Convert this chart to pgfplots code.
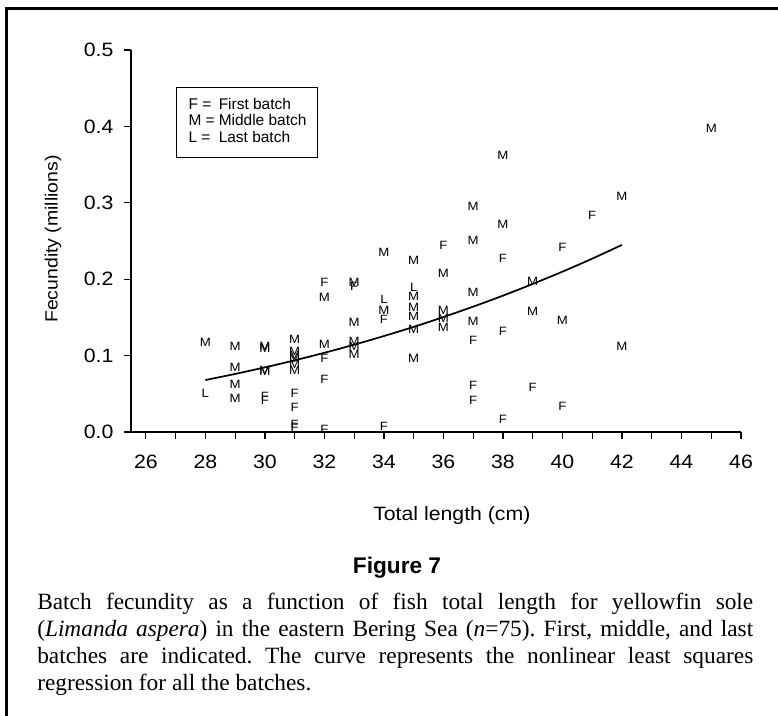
\documentclass[border=0pt]{standalone}
\usepackage{fontspec}
\setmainfont{Liberation Serif}
\newfontfamily\chartfont{Liberation Sans}[FakeStretch=1.1]
\newfontfamily\legfont{Liberation Sans}
\newfontfamily\figfont{Liberation Sans}
\usepackage{pgfplots}
\pgfplotsset{compat=1.18}

\pgfplotstableread{
x y
30 0.046
30 0.042
31 0.050
31 0.032
31 0.010
31 0.006
32 0.196
32 0.096
32 0.069
32 0.003
33 0.190
34 0.147
34 0.007
36 0.244
37 0.120
37 0.0615
37 0.042
38 0.227
38 0.132
38 0.017
39 0.0585
40 0.242
40 0.034
41 0.283
}\firstbatch

\pgfplotstableread{
x y
28 0.117
29 0.1125
29 0.084
29 0.062
29 0.044
30 0.112
30 0.109
30 0.080
30 0.081
31 0.121
31 0.105
31 0.100
31 0.096
31 0.088
31 0.081
32 0.176
32 0.115
33 0.196
33 0.143
33 0.118
33 0.112
33 0.101
34 0.235
34 0.159
35 0.224
35 0.178
35 0.163
35 0.151
35 0.134
35 0.096
36 0.208
36 0.159
36 0.149
36 0.137
37 0.295
37 0.251
37 0.183
37 0.145
38 0.362
38 0.272
39 0.197
39 0.158
40 0.146
42 0.309
42 0.112
45 0.3975
}\middlebatch

\pgfplotstableread{
x y
28 0.050
34 0.173
35 0.189
}\lastbatch

\pgfplotstableread{
x y
28 0.0680
29 0.0760
30 0.0846
31 0.0938
32 0.1037
33 0.1143
34 0.1256
35 0.1376
36 0.1505
37 0.1641
38 0.1785
39 0.1938
40 0.2099
41 0.2269
42 0.2449
}\fitcurve

\begin{document}
\frenchspacing
\begin{tikzpicture}
\useasboundingbox (-98.25pt,-212.25pt) rectangle (485.25pt,324pt);
\draw[line width=2.25pt] (-93pt,-216pt) -- (-93pt,317.25pt) -- (488pt,317.25pt);
\begin{axis}[
  at={(0pt,0pt)}, anchor=south west,
  width=457.5pt, height=286.5pt, scale only axis,
  xmin=25.5, xmax=46, ymin=0, ymax=0.5,
  axis lines*=left,
  axis line style={line width=0.9pt},
  tick align=outside,
  xtick={26,28,...,46},
  minor xtick={27,29,...,45},
  ytick={0,0.1,0.2,0.3,0.4,0.5},
  yticklabels={0.0,0.1,0.2,0.3,0.4,0.5},
  major tick length=5pt, minor tick length=5pt,
  every tick/.style={line width=0.9pt, black},
  /pgf/number format/assume math mode=true,
  tick label style={font=\chartfont\fontsize{14.5}{15}\selectfont},
  yticklabel style={anchor=east, inner sep=0pt, xshift=-8pt},
  xticklabel style={anchor=north, inner sep=0pt, yshift=-12pt},
  xlabel={Total length (cm)},
  xlabel style={at={(axis description cs:0.526,0)}, anchor=base, yshift=-66pt, inner sep=0pt,
    font=\chartfont\fontsize{14.5}{15}\selectfont},
  ylabel={Fecundity (millions)},
  ylabel style={at={(axis description cs:-0.1279,0.505)}, anchor=center, inner sep=0pt,
    font=\chartfont\fontsize{13.25}{14}\selectfont},
  clip=false,
  text mark as node=true,
]
\addplot[only marks, mark=text, text mark={F},
  text mark style={font=\chartfont\fontsize{9}{10}\selectfont, inner sep=0pt}] table {\firstbatch};
\addplot[only marks, mark=text, text mark={M},
  text mark style={font=\chartfont\fontsize{9}{10}\selectfont, inner sep=0pt}] table {\middlebatch};
\addplot[only marks, mark=text, text mark={L},
  text mark style={font=\chartfont\fontsize{9}{10}\selectfont, inner sep=0pt}] table {\lastbatch};
\addplot[black, line width=1.3pt, smooth, no marks] table {\fitcurve};
\node[draw, line width=0.8pt, anchor=north west, inner sep=0pt] at (rel axis cs:0.0738,0.9031)
  {\begin{minipage}[c][52.5pt][c]{105.75pt}\hspace*{9pt}%
   \legfont\fontsize{11.6}{12.4}\selectfont
   \begin{tabular}{@{}l@{\hspace{3pt}}l@{}}
   F = & First batch\\
   M = & Middle batch\\
   L = & Last batch
   \end{tabular}\end{minipage}};
\end{axis}
\node[anchor=base, inner sep=0pt, font=\figfont\bfseries\fontsize{17}{18}\selectfont] at (199.5pt,-105.75pt) {Figure 7};
\node[anchor=base west, inner sep=0pt] at (-70.5pt,-132.75pt) {\begin{minipage}[t]{537pt}\fontsize{17.5}{20.25}\selectfont
Batch fecundity as a function of fish total length for yellowfin sole\linebreak
(\textit{Limanda aspera}) in the eastern Bering Sea (\textit{n}=75). First, middle, and last\linebreak
batches are indicated. The curve represents the nonlinear least squares\linebreak
regression for all the batches.\end{minipage}};
\end{tikzpicture}
\end{document}
